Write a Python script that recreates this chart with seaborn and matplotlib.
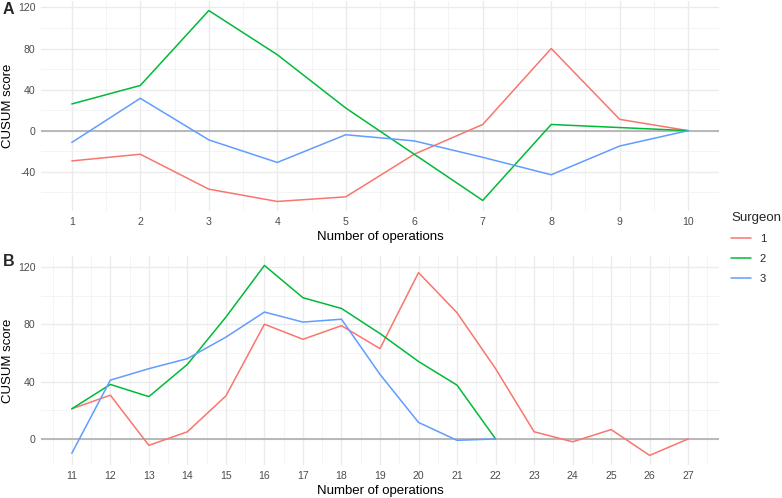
import matplotlib
matplotlib.use("Agg")
import matplotlib.pyplot as plt
from matplotlib.ticker import MultipleLocator, FixedLocator
import seaborn as sns
import pandas as pd

# ---- data ----
ops_a = [1, 2, 3, 4, 5, 6, 7, 8, 9, 10]
a_s1 = [-29.5, -23, -57, -69, -64.5, -23, 6, 80, 11, 0]
a_s2 = [26, 44, 117, 74, 22, -23, -68, 6, 3, 0]
a_s3 = [-11.5, 31.5, -9, -31, -4, -10, -26, -43, -15, 0]

ops_b1 = [11, 12, 13, 14, 15, 16, 17, 18, 19, 20, 21, 22, 23, 24, 25, 26, 27]
b_s1 = [21, 30.5, -4.5, 5, 30, 80, 69.5, 79, 63, 116, 88, 49, 5, -2, 6.5, -11.5, 0]
ops_b23 = [11, 12, 13, 14, 15, 16, 17, 18, 19, 20, 21, 22]
b_s2 = [21, 38, 29.5, 52, 85, 121, 98.5, 91, 73.5, 54, 37.5, 0]
b_s3 = [-10, 41, 49, 56, 71, 88.5, 81.5, 83.5, 45, 11.5, -1, 0]

surgeons = ["1", "2", "3"]
colors = ["#F8766D", "#00BA38", "#619CFF"]
xticks_a = [1, 2, 3, 4, 5, 6, 7, 8, 9, 10]
xticks_b = [11, 12, 13, 14, 15, 16, 17, 18, 19, 20, 21, 22, 23, 24, 25, 26, 27]
yticks_a = [-40, 0, 40, 80, 120]
yticks_b = [0, 40, 80, 120]

df_a = pd.DataFrame({
    "ops": ops_a * 3,
    "score": a_s1 + a_s2 + a_s3,
    "Surgeon": ["1"] * len(ops_a) + ["2"] * len(ops_a) + ["3"] * len(ops_a),
})
df_b = pd.DataFrame({
    "ops": ops_b1 + ops_b23 + ops_b23,
    "score": b_s1 + b_s2 + b_s3,
    "Surgeon": ["1"] * len(ops_b1) + ["2"] * len(ops_b23) + ["3"] * len(ops_b23),
})

sns.set_theme(style="white")
plt.rcParams["font.family"] = ["Liberation Sans", "DejaVu Sans"]
plt.rcParams["axes.unicode_minus"] = False

fig = plt.figure(figsize=(7.82, 4.98), dpi=100)
ax_a = fig.add_axes([41 / 782, 1 - 211 / 498, 678 / 782, 210 / 498])
ax_b = fig.add_axes([41 / 782, 1 - 465 / 498, 678 / 782, 209 / 498])

palette = dict(zip(surgeons, colors))

def style(ax, df, xlim, ylim, xticks, yticks):
    ax.axhline(0, color="#B3B3B3", lw=1.3, zorder=1)
    sns.lineplot(data=df, x="ops", y="score", hue="Surgeon", hue_order=surgeons,
                 palette=palette, lw=1.1, ax=ax, legend=True, zorder=3)
    ax.set_xticks(xticks)
    ax.set_yticks(yticks)
    ax.xaxis.set_minor_locator(FixedLocator([t + 0.5 for t in [xticks[0] - 1] + xticks]))
    ax.yaxis.set_minor_locator(MultipleLocator(20))
    ax.set_xlim(*xlim)
    ax.set_ylim(*ylim)
    ax.grid(which="major", color="#EBEBEB", lw=1.0, zorder=0)
    ax.grid(which="minor", color="#F2F2F2", lw=0.6, zorder=0)
    ax.set_axisbelow(True)
    for s in ax.spines.values():
        s.set_visible(False)
    ax.tick_params(which="both", length=0, labelsize=7.6, labelcolor="#4D4D4D", pad=4)
    ax.set_xlabel("Number of operations", fontsize=9.5, color="black", labelpad=3.5)
    ax.set_ylabel("CUSUM score", fontsize=9.5, color="black", labelpad=3)

style(ax_a, df_a, (0.55, 10.45), (-78.3, 126.3), xticks_a, yticks_a)
style(ax_b, df_b, (10.2, 27.8), (-18.2, 127.6), xticks_b, yticks_b)

handles, labels = ax_a.get_legend_handles_labels()
ax_a.get_legend().remove()
ax_b.get_legend().remove()
leg = fig.legend(handles, labels, title="Surgeon", loc="center left",
                 bbox_to_anchor=(731 / 782, 1 - 248 / 498), frameon=False,
                 fontsize=8, title_fontsize=9.5, handlelength=1.8,
                 labelspacing=0.9, handletextpad=0.8, borderpad=0,
                 borderaxespad=0)
leg._legend_box.align = "left"
for line in leg.get_lines():
    line.set_linewidth(1.1)

fig.text(3 / 782, 1 - 9 / 498, "A", fontsize=11.5, fontweight="bold", va="center", ha="left")
fig.text(3 / 782, 1 - 262 / 498, "B", fontsize=11.5, fontweight="bold", va="center", ha="left")

fig.savefig("out.png", dpi=100)
